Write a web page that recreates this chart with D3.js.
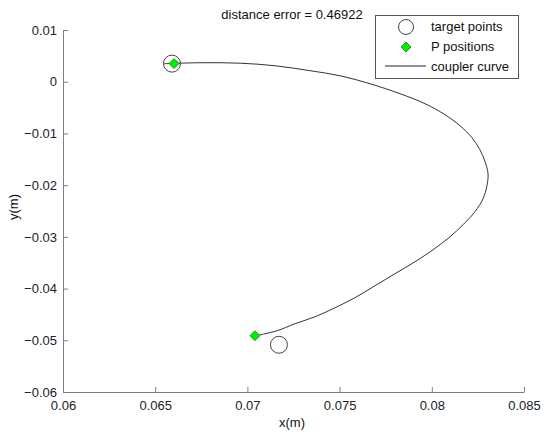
<!DOCTYPE html>
<html><head><meta charset="utf-8">
<script src="https://cdn.jsdelivr.net/npm/d3@7"></script>
<style>body{margin:0;background:#fff;} svg{display:block;font-family:"Liberation Sans",Arial,sans-serif;}</style>
</head><body>
<svg id="c" width="550" height="437"></svg>
<script>
const xTicks = [0.06, 0.065, 0.07, 0.075, 0.08, 0.085];
const yTicks = [0.01, 0, -0.01, -0.02, -0.03, -0.04, -0.05, -0.06];
const targetX = [0.06591, 0.07171];
const targetY = [0.0035, -0.05087];
const pX = [0.06602, 0.07041];
const pY = [0.0035, -0.0491];
const curveX = [0.06548, 0.06743, 0.0696, 0.0715, 0.0734, 0.07502, 0.07665, 0.07828, 0.07963, 0.08072, 0.08153, 0.08218, 0.08261, 0.08289, 0.08305, 0.08299, 0.08278, 0.08234, 0.08169, 0.08099, 0.08007, 0.07909, 0.078, 0.07692, 0.07583, 0.07475, 0.07367, 0.07258, 0.07161, 0.07095, 0.07047];
const curveY = [0.00348, 0.00367, 0.00358, 0.00309, 0.00213, 0.00116, -0.00039, -0.00232, -0.00425, -0.00638, -0.00851, -0.01083, -0.01315, -0.01547, -0.01779, -0.02011, -0.02263, -0.02514, -0.02766, -0.02998, -0.03249, -0.03481, -0.03713, -0.03945, -0.04177, -0.04371, -0.04545, -0.0468, -0.04816, -0.04874, -0.04913];
const titleText = "distance error = 0.46922";
const legendLabels = ["target points", "P positions", "coupler curve"];

const svg = d3.select("#c");
const L = 63, R = 524, T = 30, B = 392;
const x = d3.scaleLinear().domain([0.06, 0.085]).range([L, R]);
const y = d3.scaleLinear().domain([-0.06, 0.01]).range([B, T]);
const axisCol = "#7f7f7f";

const xAxis = svg.append("g").attr("transform", `translate(0,${B})`)
  .call(d3.axisBottom(x).tickValues(xTicks).tickSizeInner(-5).tickSizeOuter(0).tickPadding(6).tickFormat(d => d3.format("")(+d.toFixed(3))));
const yAxis = svg.append("g").attr("transform", `translate(${L},0)`)
  .call(d3.axisLeft(y).tickValues(yTicks).tickSizeInner(-5).tickSizeOuter(0).tickPadding(6).tickFormat(d => d3.format("")(+d.toFixed(2))));
[xAxis, yAxis].forEach(g => {
  g.select(".domain").attr("stroke", axisCol);
  g.selectAll(".tick line").attr("stroke", axisCol);
  g.selectAll("text").attr("fill", "#222").attr("font-size", 13).attr("font-family", "Liberation Sans, Arial, sans-serif");
});
xAxis.selectAll("text").attr("dy", "0.9em");

// curve
const line = d3.line().x(d => x(d[0])).y(d => y(d[1])).curve(d3.curveCatmullRom);
svg.append("path").datum(curveX.map((v, i) => [v, curveY[i]]))
  .attr("d", line).attr("fill", "none").attr("stroke", "#333").attr("stroke-width", 1);

// target circles
svg.selectAll("circle.t").data(targetX.map((v, i) => [v, targetY[i]])).enter()
  .append("circle").attr("class", "t")
  .attr("cx", d => x(d[0])).attr("cy", d => y(d[1])).attr("r", 8.5)
  .attr("fill", "none").attr("stroke", "#444").attr("stroke-width", 1);

// diamonds
const diamond = s => `M0,${-s}L${s},0L0,${s}L${-s},0Z`;
svg.selectAll("path.p").data(pX.map((v, i) => [v, pY[i]])).enter()
  .append("path").attr("class", "p")
  .attr("transform", d => `translate(${x(d[0])},${y(d[1])})`)
  .attr("d", diamond(5)).attr("fill", "#00ee00").attr("stroke", "#207020").attr("stroke-width", 0.8);

// title
svg.append("text").attr("x", 292).attr("y", 19).attr("text-anchor", "middle")
  .attr("font-size", 13).attr("fill", "#111").text(titleText);

// axis labels
svg.append("text").attr("x", 292).attr("y", 427).attr("text-anchor", "middle")
  .attr("font-size", 13).attr("fill", "#111").text("x(m)");
svg.append("text").attr("transform", "translate(18,207) rotate(-90)").attr("text-anchor", "middle")
  .attr("font-size", 13).attr("fill", "#111").text("y(m)");

// legend
const lg = svg.append("g");
lg.append("rect").attr("x", 375.5).attr("y", 15.5).attr("width", 143).attr("height", 63)
  .attr("fill", "#fff").attr("stroke", "#555").attr("stroke-width", 1);
lg.append("circle").attr("cx", 406).attr("cy", 27).attr("r", 7.5).attr("fill", "none").attr("stroke", "#444");
lg.append("path").attr("transform", "translate(406,47)").attr("d", diamond(5))
  .attr("fill", "#00ee00").attr("stroke", "#207020").attr("stroke-width", 0.8);
lg.append("line").attr("x1", 385).attr("x2", 426).attr("y1", 66).attr("y2", 66).attr("stroke", "#222");
legendLabels.forEach((t, i) => {
  lg.append("text").attr("x", 431).attr("y", 31 + i * 20).attr("font-size", 13).attr("fill", "#111").text(t);
});
</script>
</body></html>
